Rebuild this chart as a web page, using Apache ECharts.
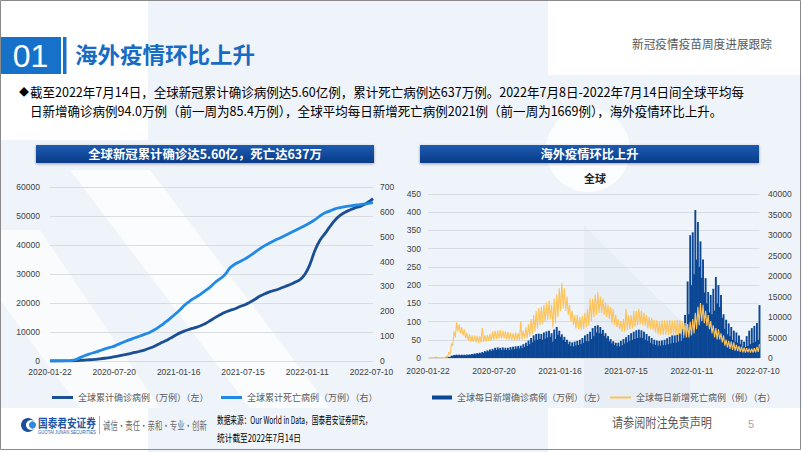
<!DOCTYPE html>
<html><head><meta charset="utf-8">
<script src="https://cdn.jsdelivr.net/npm/echarts@6/dist/echarts.min.js"></script>
<style>html,body{margin:0;padding:0;background:#fff}#c{width:802px;height:452px}</style>
</head><body><div id="c"></div><script>
// ---------- DATA ----------
const startDate = '2020-01-22';
const labelEveryDays = 180;
const lastDay = 904; // 2022-07-14
// Left chart: cumulative values sampled every 14 days from startDate, last value on 2022-07-14
const cumStepDays = 14;
const cumConfirmed = [0.06,2.8,7.5,9.5,21,93,200,318,430,570,740,950,1200,1510,1870,2220,2580,2950,3360,3860,4460,5200,6060,6880,7800,8770,9700,10430,10980,11500,12060,12860,13860,14970,15930,16800,17450,18000,18800,19400,20300,21300,22400,23200,23900,24400,25000,25700,26400,27200,28100,30000,33500,38300,41700,44000,46400,48600,50200,51300,52100,52800,53300,54100,55250,56000];
const cumDeaths = [0.002,0.05,0.2,0.33,0.9,4.7,13.5,22,29,35,41.5,49,54.5,61,70,78.5,86,93.5,100.5,108,116,126.5,140,155,171,188,206.5,226,242,255,267,282,297,316,331,348,375,390,400,411,424,438,452,465,476,486,495,505,515,525,535,545,556,569,584,596,604,612,617,621,624,627,629,632,635,637];
// Right chart: weekly weekday-high / weekend-low readings (week i starts startDate + 7*i days)
const casesHigh = [0.1,0.3,0.4,1.5,0.2,0.2,0.4,1.5,3.3,6.5, 8.5,9,9,9,9,9.5,10,11,12.5,13.5, 14.5,16.5,19,21,23,25,28,29,28,29, 28,28,30,31,32,33,34,38,42,48, 55,62,66,67,66,70,73,75,68,78, 85,75,65,58,50,45,43,45,47,50, 55,62,66,72,82,88,90,85,77,68, 60,52,46,42,42,47,52,57,63,68, 72,76,78,76,72,66,60,55,50,48, 47,48,50,54,58,62,62,64,68,80, 118,210,337,345,406,373,320,270,219,181, 173,190,222,200,173,120,105,95,85,75, 70,62,50,45,60,75,82,88,96,145];
const casesLow = [0.06,0.2,0.3,0.2,0.05,0.15,0.3,0.9,2.5,5.8, 7.5,7.5,7.5,7.8,7.6,7.8,8.5,9.5,10.5,11.5, 12.5,14,16,18,19,21,22,23,22,22, 22,22,23,24,26,26,27,30,33,38, 43,48,50,52,50,53,56,58,45,52, 64,58,50,44,38,33,32,34,36,38, 42,46,46,52,60,70,68,67,60,54, 46,40,36,32,32,35,40,43,47,50, 52,55,56,55,50,47,42,38,36,34, 34,35,36,38,40,42,42,45,47,55, 70,120,200,230,270,250,220,180,150,125, 120,130,150,140,110,80,65,60,50,45, 42,38,32,30,33,38,42,45,50];
const deathsHigh = [20,45,85,250,110,60,100,400,1400,3500, 6500,8700,8200,7500,7000,6200,5800,5500,5500,5400, 5300,7300,5500,5600,5900,6500,6600,6700,6800,6700, 6500,6400,6200,6000,6200,6100,9000,6600,7500,8200, 9500,10500,11500,12200,12500,13000,13500,14000,13000,14500, 15500,17000,18300,17000,15000,13000,11500,10500,10500,10000, 10300,11000,12000,14500,14500,15500,16000,15000,14500,13500, 13000,12500,12000,10500,9500,9000,9500,12000,10500,10500, 11500,11500,12000,11500,11000,10500,10000,9800,9300,9200, 9000,9200,9200,9200,9300,9200,9200,9300,9300,9000, 8500,8300,8800,9500,11000,12500,13400,13000,11500,10500, 9000,8000,7300,7000,6000,5500,4500,4200,4000,3800, 3200,2900,2800,2500,2400,2300,2300,2400,2700,3400];
const deathsLow = [15,40,75,140,50,40,70,300,1000,3000, 5000,6500,6000,5500,4800,4200,4000,3900,3800,3700, 3800,4000,4000,4200,4200,4500,4600,4700,4800,4800, 4600,4500,4400,4300,4400,4300,4500,4700,4800,5200, 5800,6500,7200,8000,8300,8800,9200,9500,7500,8500, 10000,11500,12000,11500,10500,9000,8000,7200,7000,6800, 7000,7500,7800,9000,10000,10500,11000,11000,10500,10000, 9500,8500,8000,7500,7000,6500,6500,6800,7000,7200, 7600,8000,8200,8000,7800,7200,7000,6800,6200,5800, 5600,5700,5700,5700,5700,5600,5600,5600,5700,5500, 5000,5000,5500,6000,7000,8000,9000,8500,7800,7000, 6000,5000,4500,4500,3800,3000,2600,2200,2000,1800, 1700,1500,1400,1300,1400,1300,1300,1400,1500];

const leftNames = ['全球累计确诊病例（万例）（左）','全球累计死亡病例（万例）（右）'];
const rightNames = ['全球每日新增确诊病例（万例）（左）','全球每日新增死亡病例（例）（右）'];

// ---------- BUILD ----------
const t0 = Date.UTC(2020,0,22);
function dayLabel(d){ return new Date(t0 + d*86400000).toISOString().slice(0,10); }
function cumDay(i, arr){ return i === arr.length-1 ? lastDay : i*cumStepDays; }
const cumConfData = cumConfirmed.map((v,i)=>[cumDay(i,cumConfirmed), v]);
const cumDeathData = cumDeaths.map((v,i)=>[cumDay(i,cumDeaths), v]);
function weekly(hi, lo){
  const out=[];
  for(let i=0;i<hi.length;i++){
    out.push([7*i+1, hi[i]]);
    if(i<lo.length) out.push([7*i+4.5, lo[i]]);
  }
  return out;
}
const casesData = weekly(casesHigh, casesLow);
const deathsData = weekly(deathsHigh, deathsLow);

const mctx = document.createElement('canvas').getContext('2d');
const CJK = '"Noto Sans CJK SC","Noto Sans",sans-serif';
function T(x, y, str, size, color, opt){
  opt = opt || {};
  const font = (opt.weight||'normal') + ' ' + size + 'px ' + (opt.family||CJK);
  let sx = 1;
  if (opt.width){ mctx.font = font; sx = opt.width / mctx.measureText(str).width; }
  const al = opt.align || 'left';
  return { type:'text', x:x, y:y, scaleX:sx, z:100, silent:true,
    style:{ text:str, font:font, fill:color, align:al, verticalAlign:'middle', textAlign:al, textVerticalAlign:'middle' } };
}
const PALE = '#eff4fa';
const axisLbl = { fontSize: 8.5, fontFamily: 'Liberation Sans', color: '#404040' };
const plain = v => String(v);

const bulletW = 715;
mctx.font = 'normal 13px ' + CJK;
const line1 = '截至2022年7月14日，全球新冠累计确诊病例达5.60亿例，累计死亡病例达637万例。2022年7月8日-2022年7月14日间全球平均每';
const line2 = '日新增确诊病例94.0万例（前一周为85.4万例），全球平均每日新增死亡病例2021例（前一周为1669例），海外疫情环比上升。';
const bScale = bulletW / mctx.measureText(line1).width;
function B(x,y,str){ const e = T(x,y,str,13,'#000'); e.scaleX = bScale; return e; }

const headerFill = {type:'linear',x:0,y:0,x2:0,y2:1,colorStops:[{offset:0,color:'#1c5cb2'},{offset:1,color:'#0a3b87'}]};
const graphics = [
  // background
  { type:'rect', z:-10, silent:true, shape:{x:148,y:0,width:400,height:452}, style:{fill:PALE} },
  { type:'rect', z:-10, silent:true, shape:{x:0,y:140,width:802,height:268}, style:{fill:PALE} },
  { type:'polygon', z:-9, silent:true, shape:{points:[[548,75],[802,75],[802,140],[548,140]]}, style:{fill:PALE} },
  { type:'polygon', z:-8, silent:true, shape:{points:[[70,170],[150,170],[330,408],[250,408]]}, style:{fill:'rgba(255,255,255,0.75)'} },
  { type:'polygon', z:-8, silent:true, shape:{points:[[0,230],[40,230],[160,408],[80,408],[0,300]]}, style:{fill:'rgba(255,255,255,0.6)'} },
  { type:'circle', z:-8, silent:true, shape:{cx:588,cy:150,r:42}, style:{fill:'rgba(255,255,255,0.8)'} },
  { type:'polygon', z:-8, silent:true, shape:{points:[[584,225],[690,330],[690,408],[584,408]]}, style:{fill:'rgba(215,225,238,0.3)'} },
  // frame
  { type:'rect', z:200, silent:true, shape:{x:0.5,y:0.5,width:800,height:449}, style:{fill:'none', stroke:'#8a8a8a', lineWidth:1} },
  // title
  { type:'rect', z:50, silent:true, shape:{x:0,y:37,width:61,height:37}, style:{fill:'#1871c9'} },
  { type:'rect', z:50, silent:true, shape:{x:63,y:37,width:3.5,height:37}, style:{fill:'#1871c9'} },
  T(30.5, 56, '01', 32, '#fff', {family:'"Liberation Sans",Arial', align:'center'}),
  T(75, 53, '海外疫情环比上升', 22, '#176bc2', {weight:'bold', width:180}),
  T(632, 43, '新冠疫情疫苗周度进展跟踪', 12, '#595959', {width:140}),
  // bullet
  T(19, 91, '◆', 10, '#000'),
  B(30, 91, line1),
  B(30, 110, line2),
  // headers
  { type:'rect', z:50, silent:true, shape:{x:36,y:145,width:338,height:18},
    style:{fill:headerFill, shadowBlur:3, shadowColor:'rgba(0,0,0,0.35)', shadowOffsetY:1} },
  T(205, 154, '全球新冠累计确诊达5.60亿，死亡达637万', 12.5, '#fff', {weight:'bold', align:'center', width:234}),
  { type:'rect', z:50, silent:true, shape:{x:420,y:145,width:339,height:18},
    style:{fill:headerFill, shadowBlur:3, shadowColor:'rgba(0,0,0,0.35)', shadowOffsetY:1} },
  T(589.5, 154, '海外疫情环比上升', 12.3, '#fff', {weight:'bold', align:'center', width:98}),
  T(595, 178, '全球', 11, '#222', {weight:'bold', align:'center'}),
  // footer
  { type:'circle', z:50, silent:true, shape:{cx:28,cy:425,r:7}, style:{fill:'#1b4f9c'} },
  { type:'circle', z:51, silent:true, shape:{cx:31,cy:425,r:5}, style:{fill:'#fff'} },
  { type:'circle', z:52, silent:true, shape:{cx:32.5,cy:425,r:3.6}, style:{fill:'#2a8be0'} },
  T(38, 422, '国泰君安证券', 12, '#1d57a8', {weight:'bold', width:58}),
  T(38, 432.5, 'GUOTAI JUNAN SECURITIES', 5, '#1d57a8', {family:'"Liberation Sans"', width:58}),
  { type:'line', z:50, silent:true, shape:{x1:99.5,y1:416,x2:99.5,y2:434}, style:{stroke:'#b0b0b0', lineWidth:1} },
  T(103, 425, '诚信·责任·亲和·专业·创新', 11, '#6b6b6b', {width:104}),
  T(217, 420, '数据来源：Our World in Data，国泰君安证券研究，', 10.5, '#000', {width:155}),
  T(217, 437, '统计截至2022年7月14日', 10.5, '#000', {width:84}),
  T(612, 421, '请参阅附注免责声明', 13, '#595959', {width:100}),
  T(748, 424, '5', 11, '#a6a6a6', {family:'"Liberation Sans"'})
];

function leg(name, left, w, h){
  return {data:[name], left:left, top:388, icon:'rect', itemWidth:w, itemHeight:h, selectedMode:false,
    textStyle:{fontSize:9, color:'#595959', fontFamily:CJK}};
}
const noLine = {axisLine:{show:false}, axisTick:{show:false}};

const chart = echarts.init(document.getElementById('c'), null, {renderer:'svg'});
chart.setOption({
  animation:false,
  backgroundColor:'#fff',
  graphic: graphics,
  grid:[
    {left:50, right:802-373, top:187, bottom:452-361},
    {left:428, right:802-759.5, top:194, bottom:452-358}
  ],
  xAxis:[
    Object.assign({type:'value', gridIndex:0, min:0, max:lastDay, interval:labelEveryDays, splitLine:{show:false},
     axisLabel:Object.assign({margin:6, showMaxLabel:false, formatter:v=> v%labelEveryDays===0 ? dayLabel(v) : ''}, axisLbl)}, noLine),
    Object.assign({type:'value', gridIndex:1, min:0, max:lastDay, interval:labelEveryDays, splitLine:{show:false},
     axisLabel:Object.assign({margin:8, showMaxLabel:false, formatter:v=> v%labelEveryDays===0 ? dayLabel(v) : ''}, axisLbl)}, noLine)
  ],
  yAxis:[
    Object.assign({type:'value', gridIndex:0, min:0, max:60000, interval:10000, splitLine:{lineStyle:{color:'#d9dce0'}}, axisLabel:Object.assign({margin:10, formatter:plain}, axisLbl)}, noLine),
    Object.assign({type:'value', gridIndex:0, position:'right', min:0, max:700, interval:100, splitLine:{show:false}, axisLabel:Object.assign({margin:7, formatter:plain}, axisLbl)}, noLine),
    Object.assign({type:'value', gridIndex:1, min:0, max:450, interval:50, splitLine:{lineStyle:{color:'#d9dce0'}}, axisLabel:Object.assign({margin:7, formatter:plain}, axisLbl)}, noLine),
    Object.assign({type:'value', gridIndex:1, position:'right', min:0, max:40000, interval:5000, splitLine:{show:false}, axisLabel:Object.assign({margin:8.5, formatter:plain}, axisLbl)}, noLine)
  ],
  legend:[
    leg(leftNames[0], 47, 21, 3),
    leg(leftNames[1], 216, 21, 3),
    leg(rightNames[0], 427, 20, 4),
    leg(rightNames[1], 605, 21, 2)
  ],
  series:[
    {name:leftNames[0], type:'line', xAxisIndex:0, yAxisIndex:0, data:cumConfData, smooth:true, showSymbol:false, color:'#1b4f93', lineStyle:{width:2.8}},
    {name:leftNames[1], type:'line', xAxisIndex:0, yAxisIndex:1, data:cumDeathData, smooth:true, showSymbol:false, color:'#2189e6', lineStyle:{width:2.8}},
    {name:rightNames[0], type:'bar', xAxisIndex:1, yAxisIndex:2, data:casesData, barWidth:1.9, color:'#0b4795'},
    {name:rightNames[1], type:'line', xAxisIndex:1, yAxisIndex:3, data:deathsData, showSymbol:false, color:'#fdc35a', lineStyle:{width:1.1}, z:3}
  ]
});
</script></body></html>
